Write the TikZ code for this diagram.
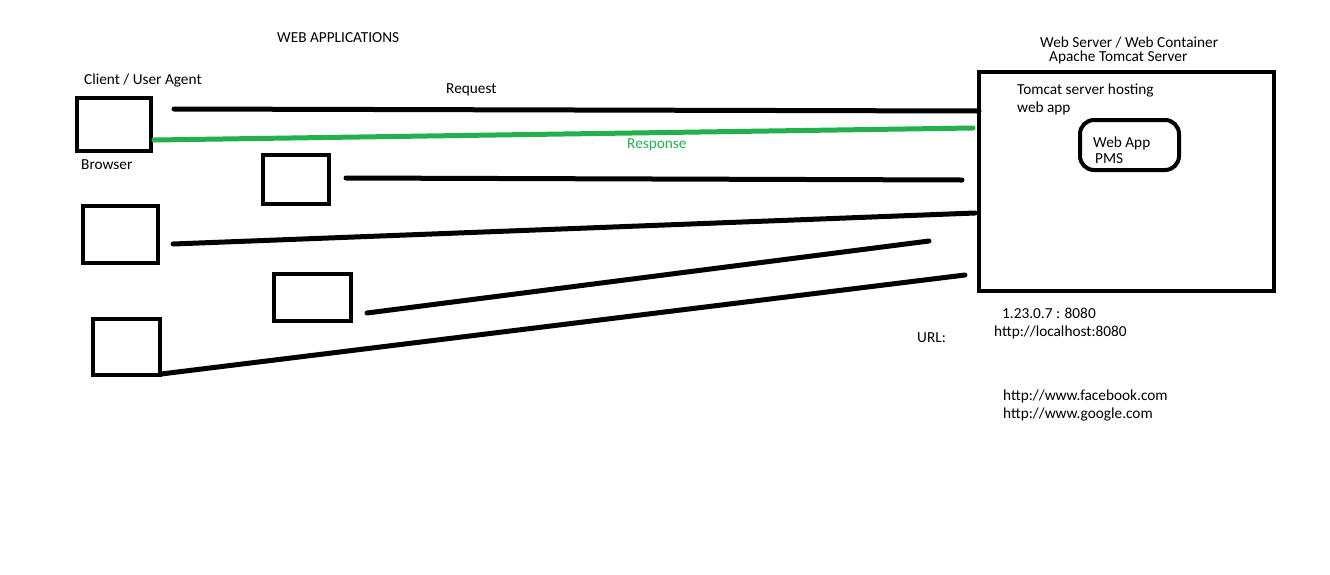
\documentclass[tikz,border=0pt]{standalone}
\usepackage{fontspec}
\setmainfont{Carlito}
\definecolor{pgreen}{RGB}{34,177,76}
\begin{document}
\begin{tikzpicture}[x=1pt,y=-1pt,
  box/.style={draw=black,line width=4pt,inner sep=0pt,outer sep=0pt},
  wire/.style={line width=5pt,line cap=round},
  lbl/.style={anchor=base west,inner sep=0pt,font=\fontsize{15.3}{17}\selectfont}]
\useasboundingbox[fill=white] (0,0) rectangle (1330,574);
% client boxes
\node[box,minimum width=74pt,minimum height=53pt] (b1) at (114,124.5) {};
\node[box,minimum width=66pt,minimum height=49pt] (b2) at (296,179.5) {};
\node[box,minimum width=75pt,minimum height=57pt] (b3) at (120.5,234.5) {};
\node[box,minimum width=77pt,minimum height=47pt] (b4) at (312.5,297.5) {};
\node[box,minimum width=67pt,minimum height=56pt] (b5) at (126.5,347) {};
% server
\node[box,minimum width=295pt,minimum height=219pt] (srv) at (1126.5,181.5) {};
\node[box,rounded corners=14pt,minimum width=99pt,minimum height=50pt] (app) at (1129.5,145) {};
% connector endpoints
\coordinate (r1) at (174,109); \coordinate (r2) at (979,111);
\coordinate (g1) at (154,140); \coordinate (g2) at (973,128);
\coordinate (c1) at (346,178); \coordinate (c2) at (962,180);
\coordinate (d1) at (173,244); \coordinate (d2) at (975,213);
\coordinate (e1) at (367,313); \coordinate (e2) at (929,241);
\coordinate (f1) at (161,374); \coordinate (f2) at (965,275);
\draw[wire] (r1) -- (r2);
\draw[wire,pgreen] (g1) -- (g2);
\draw[wire] (c1) -- (c2);
\draw[wire] (d1) -- (d2);
\draw[wire] (e1) -- (e2);
\draw[wire] (f1) -- (f2);
% labels
\node[lbl] (t1) at (277,42) {WEB APPLICATIONS};
\node[lbl] (t2) at (84,84) {Client / User Agent};
\node[lbl] (t3) at (81,169) {Browser};
\node[lbl] (t4) at (446,93) {Request};
\node[lbl,text=pgreen] (t5) at (627,148) {Response};
\node[lbl] (t6) at (1040,47) {Web Server / Web Container};
\node[lbl] (t7) at (1049,61) {Apache Tomcat Server};
\node[lbl] (t8) at (1017,94) {Tomcat server hosting};
\node[lbl] (t9) at (1017,112) {web app};
\node[lbl] (t10) at (1093,147) {Web App};
\node[lbl] (t11) at (1095,163) {PMS};
\node[lbl] (t12) at (1002,318) {1.23.0.7 : 8080};
\node[lbl] (t13) at (994,336) {http://localhost:8080};
\node[lbl] (t14) at (917,342) {URL:};
\node[lbl] (t15) at (1003,400) {http://www.facebook.com};
\node[lbl] (t16) at (1003,418) {http://www.google.com};
\end{tikzpicture}
\end{document}
